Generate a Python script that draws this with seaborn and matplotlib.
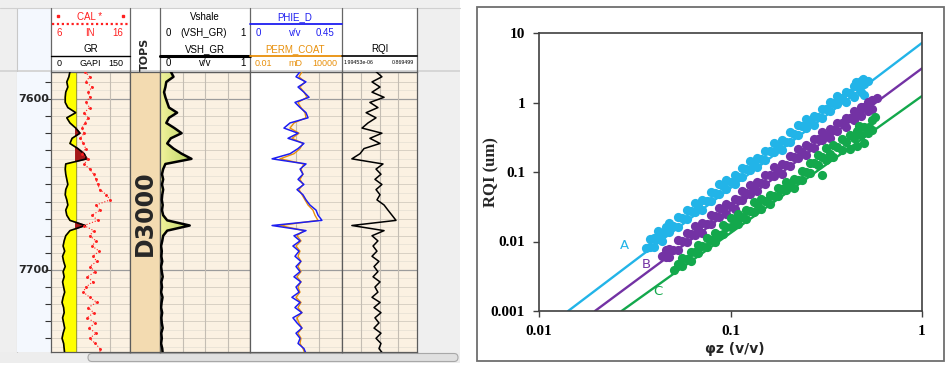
import numpy as np
import matplotlib
matplotlib.use("Agg")
import matplotlib.pyplot as plt
import seaborn as sns
from matplotlib.colors import LinearSegmentedColormap
from matplotlib.patches import Rectangle, FancyBboxPatch
from matplotlib.ticker import FixedLocator, FixedFormatter, NullLocator

sns.set_theme(style="white")
plt.rcParams["font.family"] = ["DejaVu Sans"]

# ---------------- well log panel (left) ----------------
depth = np.arange(7584, 7750, 3)  # 3 ft sampling

gr = [36, 34, 30, 32, 28, 27, 27, 32, 47, 30,
      36, 47, 55, 40, 36, 51, 63, 68, 28, 27,
      28, 30, 32, 28, 27, 30, 32, 28, 30, 36,
      65, 36, 28, 25, 23, 26, 22, 24, 27, 23,
      25, 22, 24, 26, 23, 21, 24, 25, 22, 24,
      26, 23, 21, 24, 25, 26]
cal = [10.3, 10.9, 10.4, 11.2, 10.7, 10.9, 10.4, 10.9, 10.2, 10.7,
       10.3, 9.9, 10.2, 9.7, 10.1, 10.4, 9.9, 10.7, 10.2, 10.9,
       11.4, 11.7, 11.9, 12.2, 13.0, 13.5, 11.7, 12.2, 11.2, 11.9,
       10.2, 11.4, 10.9, 11.7, 11.2, 12.1, 11.3, 11.8, 10.9, 11.6,
       10.6, 11.3, 10.4, 10.1, 10.9, 11.8, 10.7, 11.4, 10.6, 11.6,
       10.8, 11.7, 10.9, 11.6, 12.2, 12.2]
vsh = [0.12, 0.15, 0.07, 0.06, 0.045, 0.06, 0.08, 0.10, 0.19, 0.10,
       0.07, 0.16, 0.24, 0.12, 0.08, 0.15, 0.24, 0.35, 0.06, 0.035,
       0.022, 0.035, 0.022, 0.035, 0.025, 0.02, 0.03, 0.022, 0.035, 0.08,
       0.33, 0.08, 0.035, 0.025, 0.012, 0.02, 0.015, 0.025, 0.012, 0.02,
       0.03, 0.015, 0.022, 0.012, 0.028, 0.018, 0.012, 0.024, 0.015, 0.02,
       0.03, 0.014, 0.02, 0.012, 0.025, 0.03]
phie = [0.245, 0.225, 0.274, 0.235, 0.264, 0.289, 0.220, 0.245, 0.274, 0.284,
        0.196, 0.166, 0.235, 0.186, 0.264, 0.235, 0.196, 0.108, 0.274, 0.245,
        0.259, 0.235, 0.264, 0.230, 0.259, 0.274, 0.293, 0.323, 0.333, 0.352,
        0.108, 0.274, 0.215, 0.245, 0.210, 0.240, 0.220, 0.249, 0.225, 0.245,
        0.215, 0.249, 0.225, 0.240, 0.205, 0.245, 0.220, 0.254, 0.210, 0.230,
        0.254, 0.225, 0.245, 0.235, 0.264, 0.274]
perm = [24.6, 15.7, 38.6, 18.2, 33.3, 52.2, 13.5, 21.2, 38.6, 44.9,
        7.4, 4.06, 15.7, 5.49, 28.6, 18.2, 7.4, 0.91, 33.3, 21.2,
        28.6, 18.2, 28.6, 15.7, 24.6, 38.6, 60.7, 128, 173, 272,
        0.91, 33.3, 11.6, 21.2, 10.0, 18.2, 13.5, 21.2, 13.5, 21.2,
        11.6, 21.2, 13.5, 18.2, 10.0, 21.2, 13.5, 24.6, 11.6, 15.7,
        24.6, 13.5, 21.2, 18.2, 28.6, 38.6]
rqi = [7.2e-4, 2.0e-3, 3.6e-4, 1.44e-3, 3.6e-4, 2.9e-3, 2.5e-4, 1.0e-3, 1.3e-4, 7.2e-4,
       1.8e-4, 6.4e-5, 2.0e-3, 2.5e-4, 1.44e-3, 9.0e-5, 4.5e-5, 1.1e-5, 2.4e-3, 7.2e-4,
       1.7e-3, 6.0e-4, 2.0e-3, 7.2e-4, 1.44e-3, 8.5e-4, 2.9e-3, 5.7e-3, 1.15e-2, 2.3e-2,
       1.1e-5, 2.9e-3, 3.6e-4, 1.0e-3, 4.3e-4, 8.5e-4, 3.6e-4, 1.2e-3, 5.1e-4, 1.0e-3,
       4.3e-4, 1.44e-3, 6.0e-4, 1.0e-3, 3.6e-4, 1.44e-3, 5.1e-4, 1.7e-3, 6.0e-4, 1.2e-3,
       5.1e-4, 1.7e-3, 7.2e-4, 1.7e-3, 1.2e-3, 2.4e-3]
gr_cutoff = 47
depth_labels = [7600, 7700]
top_names = ["D3000"]
top_depths = [7667]

# ---------------- RQI vs phi_z crossplot (right) ----------------
phi_a = [0.036, 0.038, 0.038, 0.040, 0.040, 0.042, 0.042, 0.044, 0.044, 0.046,
         0.048, 0.048, 0.050, 0.053, 0.053, 0.056, 0.059, 0.059, 0.062, 0.065,
         0.065, 0.068, 0.071, 0.071, 0.075, 0.079, 0.079, 0.083, 0.087, 0.087,
         0.091, 0.095, 0.095, 0.100, 0.105, 0.105, 0.110, 0.115, 0.115, 0.120,
         0.126, 0.126, 0.132, 0.138, 0.138, 0.145, 0.152, 0.152, 0.160, 0.168,
         0.168, 0.176, 0.185, 0.185, 0.194, 0.204, 0.204, 0.214, 0.225, 0.225,
         0.236, 0.248, 0.248, 0.260, 0.273, 0.273, 0.287, 0.300, 0.300, 0.315,
         0.330, 0.330, 0.345, 0.360, 0.360, 0.380, 0.400, 0.400, 0.420, 0.440,
         0.440, 0.460, 0.480, 0.480, 0.500, 0.520, 0.450, 0.490, 0.500]
rqi_a = [0.00818, 0.0110, 0.00836, 0.0112, 0.00847, 0.0142, 0.0108, 0.0133, 0.0101, 0.0160,
         0.0136, 0.0183, 0.0166, 0.0225, 0.0163, 0.0220, 0.0288, 0.0213, 0.0278, 0.0267,
         0.0361, 0.0322, 0.0395, 0.0286, 0.0377, 0.0516, 0.0383, 0.0499, 0.0661, 0.0490,
         0.0632, 0.0562, 0.0776, 0.0718, 0.0891, 0.0661, 0.0855, 0.115, 0.0855, 0.110,
         0.106, 0.143, 0.131, 0.157, 0.117, 0.152, 0.201, 0.149, 0.200, 0.193,
         0.260, 0.233, 0.290, 0.210, 0.272, 0.372, 0.269, 0.357, 0.467, 0.346,
         0.459, 0.434, 0.585, 0.524, 0.650, 0.471, 0.614, 0.809, 0.600, 0.798,
         1.01, 0.748, 0.989, 0.940, 1.24, 1.15, 1.41, 1.02, 1.36, 1.75,
         1.21, 1.72, 2.06, 1.42, 1.82, 2.07, 2.00, 2.20, 1.30]
phi_b = [0.044, 0.046, 0.046, 0.048, 0.048, 0.050, 0.053, 0.053, 0.056, 0.059,
         0.059, 0.062, 0.065, 0.065, 0.068, 0.071, 0.071, 0.075, 0.079, 0.079,
         0.083, 0.087, 0.087, 0.091, 0.095, 0.095, 0.100, 0.105, 0.105, 0.110,
         0.115, 0.115, 0.120, 0.126, 0.126, 0.132, 0.138, 0.138, 0.145, 0.152,
         0.152, 0.160, 0.168, 0.168, 0.176, 0.185, 0.185, 0.194, 0.204, 0.204,
         0.214, 0.225, 0.225, 0.236, 0.248, 0.248, 0.260, 0.273, 0.273, 0.287,
         0.300, 0.300, 0.315, 0.330, 0.330, 0.345, 0.360, 0.360, 0.380, 0.400,
         0.400, 0.420, 0.440, 0.440, 0.460, 0.480, 0.480, 0.500, 0.520, 0.520,
         0.550, 0.580, 0.550]
rqi_b = [0.00624, 0.00596, 0.00767, 0.00592, 0.00780, 0.00757, 0.0105, 0.00760, 0.0102, 0.0134,
         0.00991, 0.0129, 0.0126, 0.0167, 0.0149, 0.0182, 0.0132, 0.0178, 0.0243, 0.0176,
         0.0234, 0.0303, 0.0225, 0.0290, 0.0251, 0.0347, 0.0328, 0.0406, 0.0294, 0.0390,
         0.0525, 0.0389, 0.0499, 0.0481, 0.0649, 0.0593, 0.0729, 0.0528, 0.0687, 0.0910,
         0.0675, 0.0899, 0.0887, 0.117, 0.104, 0.130, 0.0942, 0.125, 0.170, 0.123,
         0.163, 0.161, 0.213, 0.195, 0.243, 0.176, 0.228, 0.302, 0.224, 0.299,
         0.291, 0.375, 0.345, 0.416, 0.308, 0.396, 0.508, 0.385, 0.507, 0.603,
         0.447, 0.594, 0.750, 0.556, 0.700, 0.855, 0.634, 0.869, 1.03, 0.766,
         1.08, 1.15, 0.802]
phi_c = [0.051, 0.053, 0.056, 0.056, 0.059, 0.062, 0.062, 0.065, 0.068, 0.068,
         0.071, 0.075, 0.075, 0.079, 0.083, 0.083, 0.087, 0.091, 0.091, 0.095,
         0.100, 0.100, 0.105, 0.110, 0.110, 0.115, 0.120, 0.120, 0.126, 0.132,
         0.132, 0.138, 0.145, 0.145, 0.152, 0.160, 0.160, 0.168, 0.176, 0.176,
         0.185, 0.194, 0.194, 0.204, 0.214, 0.214, 0.225, 0.236, 0.236, 0.248,
         0.260, 0.260, 0.273, 0.287, 0.287, 0.300, 0.300, 0.315, 0.315, 0.330,
         0.345, 0.345, 0.360, 0.380, 0.380, 0.400, 0.420, 0.420, 0.440, 0.460,
         0.460, 0.480, 0.500, 0.500, 0.520, 0.550, 0.550, 0.570, 0.530, 0.470]
rqi_c = [0.00387, 0.00480, 0.00445, 0.00573, 0.00553, 0.00716, 0.00531, 0.00700, 0.00899, 0.00682,
         0.00873, 0.00847, 0.0114, 0.0105, 0.00989, 0.0133, 0.0124, 0.0175, 0.0127, 0.0162,
         0.0216, 0.0160, 0.0207, 0.0180, 0.0249, 0.0226, 0.0282, 0.0209, 0.0277, 0.0365,
         0.0270, 0.0347, 0.0296, 0.0409, 0.0382, 0.0474, 0.0352, 0.0455, 0.0586, 0.0445,
         0.0575, 0.0551, 0.0726, 0.0667, 0.0804, 0.0596, 0.0773, 0.104, 0.0774, 0.100,
         0.136, 0.0982, 0.133, 0.176, 0.128, 0.164, 0.0920, 0.222, 0.147, 0.184,
         0.242, 0.163, 0.229, 0.299, 0.207, 0.269, 0.340, 0.215, 0.310, 0.389,
         0.240, 0.344, 0.438, 0.264, 0.367, 0.566, 0.401, 0.621, 0.447, 0.466]
line_a_phi, line_a_rqi = [0.0142, 1.0], [0.001, 7.2]
line_b_phi, line_b_rqi = [0.0196, 1.0], [0.001, 3.1]
line_c_phi, line_c_rqi = [0.027, 1.0], [0.001, 1.24]
zone_names = ["A", "B", "C"]
zone_label_phi = [0.0278, 0.0362, 0.0418]
zone_label_rqi = [0.0089, 0.0046, 0.00188]
xtick_vals, xtick_labels = [0.01, 0.1, 1], ["0.01", "0.1", "1"]
ytick_vals, ytick_labels = [0.001, 0.01, 0.1, 1, 10], ["0.001", "0.01", "0.1", "1", "10"]

# ---------------- layout helpers ----------------
W, H = 950, 372
fig = plt.figure(figsize=(W / 100, H / 100), dpi=100)


def px_axes(x0, y0, x1, y1):
    return fig.add_axes([x0 / W, 1 - y1 / H, (x1 - x0) / W, (y1 - y0) / H])


BEIGE = "#FBF1E2"
TOP, BOT = 72, 352
D_TOP, D_BOT = 7584.2, 7748.0
SANS = "Liberation Sans"
BLUE, ORANGE, RED = "#1E1EF0", "#E8900C", "#FF2020"
vsh_cmap = LinearSegmentedColormap.from_list(
    "vsh", ["#F2F39C", "#CADC74", "#8DB74A", "#3F8320", "#17600A"])
grad = np.linspace(0, 1, 256).reshape(1, -1)

# background chrome in pixel coordinates
bg = fig.add_axes([0, 0, 1, 1])
bg.add_patch(Rectangle((0, 0), 460, 352, fc="#EFEFEF", ec="none"))
bg.add_patch(Rectangle((17, 8), 34, 344, fc="#F4F8FE", ec="none"))
bg.add_patch(Rectangle((51, 8), 366, 62, fc="white", ec="none"))
bg.plot([17, 17], [8, 352], color="#C8C8C8", lw=0.8)
bg.plot([0, 460], [8, 8], color="#D0D0D0", lw=0.8)
bg.add_patch(Rectangle((0, 70), 460, 2, fc="#D6D6D6", ec="none"))
bg.imshow(grad, extent=[160.5, 250, 40, 8.5], cmap=vsh_cmap, aspect="auto")
for x in [51, 130, 160, 250, 342, 417]:
    bg.plot([x, x], [8, 72], color="#666666", lw=0.9)


def htext(x, y, s, color="black", size=7, **kw):
    bg.text(x, y, s, color=color, fontsize=size, family=SANS,
            ha=kw.pop("ha", "center"), va="center", **kw)


# track 1 header (CAL / GR)
htext(90, 17, "CAL *", RED)
bg.plot([58, 123], [16, 16], ls="none", marker="s", ms=1.5, color=RED)
bg.plot([52, 129], [24, 24], color=RED, ls=(0, (1, 1.2)), lw=1.6)
htext(59, 33, "6", RED); htext(90, 33, "IN", RED); htext(118, 33, "16", RED)
htext(91, 49, "GR")
bg.plot([51, 130], [56, 56], color="black", lw=1)
htext(59, 63, "0", size=6.5); htext(90, 63, "GAPI", size=6.5); htext(116, 63, "150", size=6.5)
# tops header
bg.text(145, 54, "TOPS", rotation=90, fontsize=8, fontweight="bold",
        ha="center", va="center")
# vshale header
htext(205, 17, "Vshale")
htext(168, 33, "0"); htext(204, 33, "(VSH_GR)"); htext(243, 33, "1")
htext(205, 49, "VSH_GR")
bg.plot([160, 250], [56, 56], color="black", lw=2.2)
htext(168, 63, "0"); htext(205, 63, "v/v"); htext(243, 63, "1")
# porosity / perm header
htext(295, 17, "PHIE_D", BLUE)
bg.plot([250, 342], [24, 24], color=BLUE, lw=1.3)
htext(258, 33, "0", BLUE); htext(295, 33, "v/v", BLUE); htext(325, 33, "0.45", BLUE)
htext(295, 49, "PERM_COAT", ORANGE)
bg.plot([250, 342], [56, 56], color=ORANGE, lw=1.3)
htext(263, 63, "0.01", ORANGE, size=6.5); htext(295, 63, "mD", ORANGE, size=6.5)
htext(325, 63, "10000", ORANGE, size=6.5)
# RQI header
htext(380, 49, "RQI")
bg.plot([342, 417], [56, 56], color="black", lw=1.2)
htext(344, 63, "1.99453e-06", size=3.8, ha="left")
htext(414, 63, "0.869499", size=3.8, ha="right")

# scrollbar
bg.add_patch(Rectangle((0, 352), 460, 11, fc="#EDEDED", ec="none"))
bg.add_patch(FancyBboxPatch((88, 353.5), 370, 8,
                            boxstyle="round,pad=0,rounding_size=4",
                            fc="#E0E0E0", ec="#A8A8A8", lw=0.8))
# crossplot frame
bg.add_patch(Rectangle((477, 7), 467, 354, fc="white", ec="#6E6E6E", lw=1.3))
bg.set_xlim(0, W)
bg.set_ylim(H, 0)
bg.axis("off")


def track(x0, x1, xlim, xscale="linear", face=BEIGE, vgrid=(0.25, 0.5, 0.75), hgrid=True):
    ax = px_axes(x0, TOP, x1, BOT)
    ax.set_facecolor(face)
    ax.set_xscale(xscale)
    ax.set_xlim(xlim)
    ax.set_ylim(D_BOT, D_TOP)
    ax.tick_params(which="both", length=0, labelbottom=False, labelleft=False)
    for s in ax.spines.values():
        s.set_color("#5c5c5c")
        s.set_linewidth(0.9)
    if hgrid:
        for d in range(7585, 7750, 5):
            if d % 100 == 0:
                c, w = "#9c9c9c", 0.9
            elif d % 10 == 0:
                c, w = "#D8D0C4", 0.7
            else:
                c, w = "#E9E2D6", 0.6
            ax.axhline(d, color=c, lw=w, zorder=0.5)
    for f in vgrid:
        ax.plot([f, f], [0, 1], transform=ax.transAxes, color="#C4BDB3", lw=0.8, zorder=0.6)
    return ax


def twin(ax, xlim, xscale="linear"):
    t = ax.twiny()
    t.set_xscale(xscale)
    t.set_xlim(xlim)
    t.tick_params(which="both", length=0, labeltop=False, labelbottom=False)
    for s in t.spines.values():
        s.set_visible(False)
    return t


# depth track
axd = px_axes(17, TOP, 51, BOT)
axd.set_facecolor("#F4F8FE")
axd.set_xlim(0, 1)
axd.set_ylim(D_BOT, D_TOP)
axd.set_yticks(range(7590, 7750, 10))
axd.tick_params(axis="y", direction="in", left=False, right=True, length=4,
                width=0.8, color="#333333", labelleft=False, labelright=False)
axd.tick_params(axis="x", bottom=False, labelbottom=False)
for s in axd.spines.values():
    s.set_visible(False)
for d in depth_labels:
    axd.text(0.03, d, str(d), transform=axd.get_yaxis_transform(),
             ha="left", va="center", fontsize=8, fontweight="bold")

gr_a = np.array(gr)
# track 1: GR with sand / shale fill and caliper
ax1 = track(51, 130, (0, 150), vgrid=(0.75,))
ax1.axvline(gr_cutoff, color="#555555", lw=0.9, zorder=0.7)
ax1.fill_betweenx(depth, gr_a, gr_cutoff, where=gr_a <= gr_cutoff,
                  interpolate=True, color="#FFFF00", zorder=1)
ax1.fill_betweenx(depth, gr_a, gr_cutoff, where=gr_a >= gr_cutoff,
                  interpolate=True, color="#A51818", zorder=1)
ax1.plot(gr, depth, color="black", lw=1.2, zorder=3)
ax1c = twin(ax1, (6, 16))
ax1c.plot(cal, depth, color=RED, lw=0.8, ls=":", marker=".", ms=2.2, zorder=3)

# tops track
axt = track(130, 160, (0, 1), face="#F3DBB1", vgrid=(), hgrid=False)
for name, d in zip(top_names, top_depths):
    axt.text(0.5, d, name, transform=axt.get_yaxis_transform(), rotation=90,
             ha="center", va="center", fontsize=17, fontweight="bold")

# track 3: Vshale with gradient fill
ax3 = track(160, 250, (0, 1))
poly = ax3.fill_betweenx(depth, 0, vsh, color="none")
im = ax3.imshow(grad, extent=[0, 1, D_BOT, D_TOP], cmap=vsh_cmap, aspect="auto", zorder=1)
im.set_clip_path(poly.get_paths()[0], transform=ax3.transData)
ax3.plot(vsh, depth, color="black", lw=1.8, zorder=3)
ax3.set_xlim(0, 1)
ax3.set_ylim(D_BOT, D_TOP)

# track 4: porosity and permeability
ax4 = track(250, 342, (0, 0.45))
ax4.fill_betweenx(depth, 0, phie, color="white", zorder=1)
ax4p = twin(ax4, (0.01, 10000), "log")
ax4p.plot(perm, depth, color=ORANGE, lw=1.0)
ax4b = twin(ax4, (0, 0.45))
ax4b.plot(phie, depth, color=BLUE, lw=1.1)

# track 5: RQI
ax5 = track(342, 417, (1.99453e-06, 0.869499), "log")
ax5.plot(rqi, depth, color="black", lw=1.1, zorder=3)

# ---------------- crossplot ----------------
COL_A, COL_B, COL_C = "#22B4E8", "#7332A4", "#13A84C"
ax = px_axes(539, 33, 922, 311)
ax.set_xscale("log")
ax.set_yscale("log")
for lx, ly, c in [(line_a_phi, line_a_rqi, COL_A), (line_b_phi, line_b_rqi, COL_B),
                  (line_c_phi, line_c_rqi, COL_C)]:
    sns.lineplot(x=lx, y=ly, color=c, lw=1.7, ax=ax, zorder=2)
for px_, py_, c in [(phi_a, rqi_a, COL_A), (phi_b, rqi_b, COL_B), (phi_c, rqi_c, COL_C)]:
    sns.scatterplot(x=px_, y=py_, color=c, s=44, linewidth=0, ax=ax, zorder=3)
for name, lx, ly, c in zip(zone_names, zone_label_phi, zone_label_rqi, [COL_A, COL_B, COL_C]):
    ax.text(lx, ly, name, color=c, fontsize=9.5, ha="center", va="center")
ax.set_xlim(0.01, 1)
ax.set_ylim(0.001, 10)
ax.xaxis.set_major_locator(FixedLocator(xtick_vals))
ax.xaxis.set_major_formatter(FixedFormatter(xtick_labels))
ax.yaxis.set_major_locator(FixedLocator(ytick_vals))
ax.yaxis.set_major_formatter(FixedFormatter(ytick_labels))
ax.xaxis.set_minor_locator(NullLocator())
ax.yaxis.set_minor_locator(NullLocator())
ax.tick_params(which="major", direction="out", length=4, width=1, color="#404040",
               pad=6, bottom=True, left=True, labelsize=11)
plt.setp(ax.get_xticklabels() + ax.get_yticklabels(), family="Liberation Serif",
         fontweight="bold", color="black")
for s in ax.spines.values():
    s.set_color("#404040")
    s.set_linewidth(1.2)
ax.set_xlabel("φz (v/v)", fontsize=10, fontweight="bold", family="DejaVu Sans")
ax.xaxis.set_label_coords(0.512, -0.112)
ax.set_ylabel("RQI (um)", fontsize=12, fontweight="bold", family="Liberation Serif")
ax.yaxis.set_label_coords(-0.104, 0.5)

fig.savefig("out.png", dpi=100)
